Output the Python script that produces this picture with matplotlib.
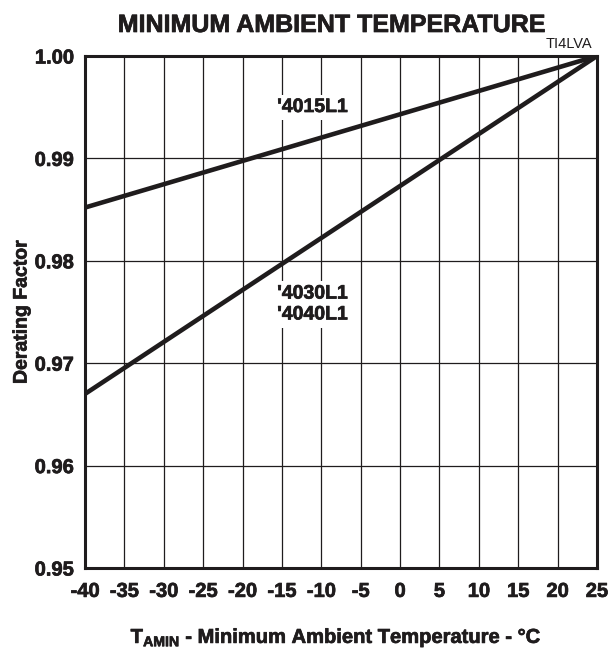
import matplotlib
matplotlib.use("Agg")
import matplotlib.pyplot as plt
import matplotlib.patheffects as pe
import numpy as np

plt.rcParams['font.family'] = ['Liberation Sans', 'DejaVu Sans']
plt.rcParams['mathtext.fontset'] = 'custom'
plt.rcParams['mathtext.bf'] = 'Liberation Sans:bold'

# curve end points
temp = [-40, 25]
derate_4015 = [0.9852, 1.000]
derate_4030 = [0.9670, 1.000]

xticks = list(range(-40, 30, 5))
yticks = [0.95, 0.96, 0.97, 0.98, 0.99, 1.00]

ink = "#1f1c1d"
heavy = [pe.withStroke(linewidth=0.5, foreground=ink)]

fig = plt.figure(figsize=(6.09, 6.51), dpi=100)
ax = fig.add_axes([85/609, 1 - 568/651, 512/609, 512/651])

ax.plot(temp, derate_4015, color=ink, lw=3.3, solid_capstyle="butt", zorder=4)
ax.plot(temp, derate_4030, color=ink, lw=3.3, solid_capstyle="butt", zorder=4)

ax.set_xlim(-40, 25)
ax.set_ylim(0.95, 1.00)
ax.set_xticks(xticks)
ax.set_yticks(yticks)
ax.set_xticklabels([str(t) for t in xticks])
ax.set_yticklabels([f"{v:.2f}" for v in yticks])
ax.grid(True, color=ink, lw=0.9, zorder=1)
ax.set_axisbelow(True)
ax.tick_params(length=0, labelsize=14.5)
ax.tick_params(axis="x", pad=10)
ax.tick_params(axis="y", pad=8)
for lab in ax.get_xticklabels() + ax.get_yticklabels():
    lab.set_fontweight("bold")
    lab.set_color(ink)
    lab.set_path_effects(heavy)
for sp in ax.spines.values():
    sp.set_linewidth(2.2)
    sp.set_color(ink)
    sp.set_zorder(5)

box = dict(facecolor="white", edgecolor="none", pad=3)
ax.text(-15.6, 0.99497, "'4015L1", fontsize=14, fontweight="bold", color=ink,
        va="center", bbox=box, zorder=3, path_effects=heavy)
ax.text(-15.6, 0.97573, "'4030L1\n'4040L1", fontsize=14, fontweight="bold", color=ink,
        va="center", linespacing=1.3, bbox=box, zorder=3, path_effects=heavy)
fig.text(592/609, 1 - 48/651, "TI4LVA", fontsize=10.5, color=ink, ha="right", va="baseline")

ax.set_ylabel("Derating Factor", fontsize=14, fontweight="bold", color=ink, path_effects=heavy)
ax.yaxis.set_label_coords(-0.123, 0.5)
ax.yaxis.label.set_verticalalignment("center")
ax.set_xlabel(r"T$_{\mathbf{AMIN}}$ - Minimum Ambient Temperature - °C", fontsize=14.5,
              fontweight="bold", color=ink, path_effects=heavy)
ax.xaxis.set_label_coords((336 - 85)/512, -(643 - 568)/512)
ax.xaxis.label.set_verticalalignment("baseline")
fig.text(331/609, 1 - 32/651, "MINIMUM AMBIENT TEMPERATURE", fontsize=18, fontweight="bold",
         color=ink, ha="center", va="baseline", path_effects=heavy)

fig.savefig("out.png", dpi=100)
